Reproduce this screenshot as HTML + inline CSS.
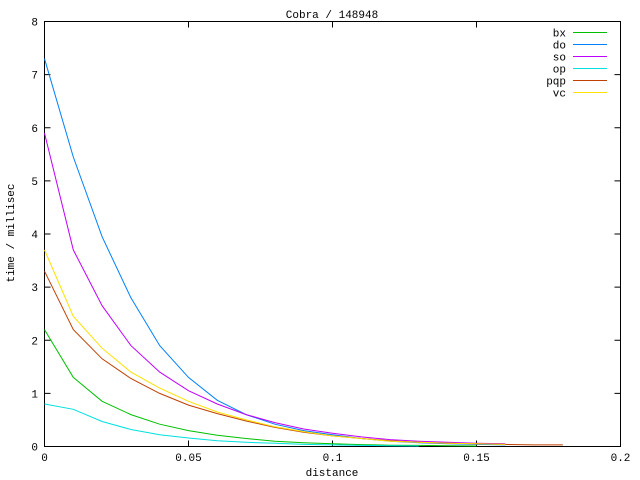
<!DOCTYPE html>
<html><head><style>body{margin:0;background:#fff}svg{display:block}text{font-family:"Liberation Mono",monospace;font-size:11px;fill:#000}</style></head>
<body>
<svg id="s" width="640" height="480" xmlns="http://www.w3.org/2000/svg">
<rect x="0" y="0" width="640" height="480" fill="#fff"/>
<text x="332" y="18" text-anchor="middle">Cobra / 148948</text>
<text x="332" y="476" text-anchor="middle">distance</text>
<text transform="translate(14,233) rotate(-90)" text-anchor="middle">time / millisec</text>
<g id="ax" stroke="#000" stroke-width="1" fill="none"></g>
<g id="ser" fill="none" stroke-width="1"></g>
</svg>
<script>
var s=document.getElementById('s'),ax=document.getElementById('ax'),ser=document.getElementById('ser');
var L=44.5,R=620.5,T=21.5,B=446.5;
function X(v){return L+(R-L)*v/0.2}function Y(v){return B-(B-T)*v/8}
var NS='http://www.w3.org/2000/svg';
function el(p,t,a,tx){var e=document.createElementNS(NS,t);for(var k in a)e.setAttribute(k,a[k]);if(tx!=null)e.textContent=tx;p.appendChild(e);return e}
el(ax,'rect',{x:L,y:T,width:R-L,height:B-T});
for(var i=0;i<=8;i++){var y=Y(i);el(ax,'path',{d:'M'+L+' '+y+'h6M'+R+' '+y+'h-6'});el(s,'text',{x:38,y:y+4,'text-anchor':'end'},i)}
var xl=['0','0.05','0.1','0.15','0.2'];
for(var i=0;i<5;i++){var x=X(i*0.05);el(ax,'path',{d:'M'+x+' '+B+'v-6M'+x+' '+T+'v6'});el(s,'text',{x:x,y:461,'text-anchor':'middle'},xl[i])}
var D=[
['bx','#00c000',[2.2,1.3,0.85,0.6,0.42,0.3,0.21,0.15,0.1,0.07,0.05,0.035,0.025,0.02,0.015,0.01]],
['do','#0080ff',[7.3,5.45,3.95,2.8,1.9,1.3,0.87,0.6,0.42,0.3,0.22,0.15,0.1,0.07,0.05,0.04,0.03]],
['so','#c000ff',[5.9,3.7,2.65,1.9,1.4,1.05,0.8,0.6,0.45,0.33,0.25,0.18,0.13,0.1,0.08,0.06,0.05]],
['op','#00e0e0',[0.8,0.7,0.47,0.32,0.22,0.16,0.11,0.08,0.06,0.04,0.03,0.02,0.015,0.01]],
['pqp','#c04000',[3.3,2.2,1.65,1.28,1.0,0.78,0.62,0.48,0.36,0.27,0.2,0.15,0.11,0.08,0.06,0.05,0.04,0.03,0.03]],
['vc','#ffe000',[3.7,2.45,1.85,1.4,1.1,0.85,0.65,0.5,0.37,0.28,0.2,0.15,0.1,0.08,0.06,0.05,0.04]]];
D.forEach(function(d,j){var p=d[2].map(function(v,i){return X(i*0.01).toFixed(1)+','+Y(v).toFixed(1)}).join(' ');
el(ser,'polyline',{points:p,stroke:d[1]});var ly=32.5+12*j;
el(ser,'path',{d:'M573 '+ly+'H607',stroke:d[1]});el(s,'text',{x:566,y:ly+4,'text-anchor':'end'},d[0])});
</script>
</body></html>
